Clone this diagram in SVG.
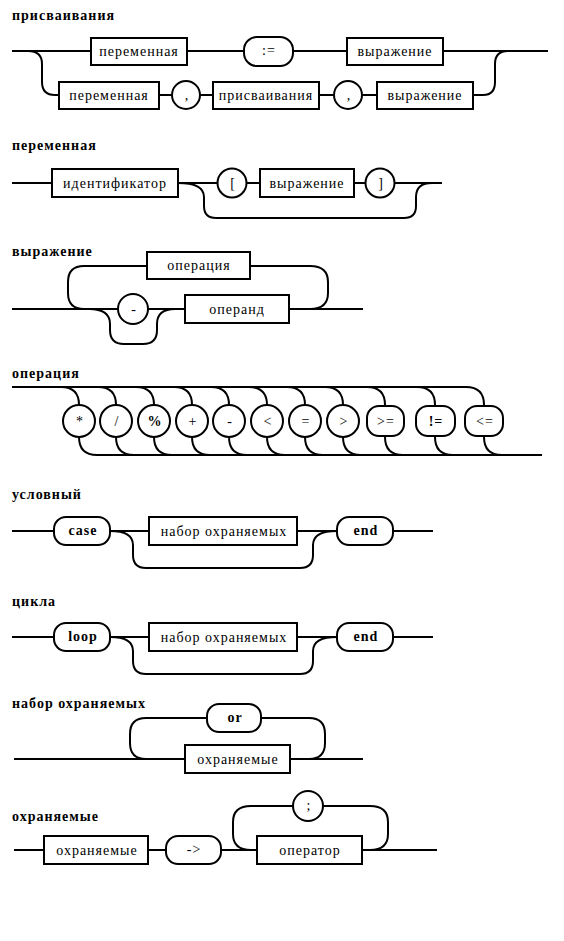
<svg xmlns="http://www.w3.org/2000/svg" width="564" height="941" viewBox="0 0 564 941">
<style>
.ln{fill:none;stroke:#000;stroke-width:2}
.bx{fill:#fff;stroke:#000;stroke-width:2}
.t{font-family:"Liberation Serif","DejaVu Serif",serif;font-size:14px;letter-spacing:1px;text-anchor:middle;fill:#000}
.b{font-weight:bold}
.h{font-family:"Liberation Serif","DejaVu Serif",serif;font-size:14px;font-weight:bold;letter-spacing:1px;fill:#000}
</style>
<rect width="564" height="941" fill="#fff"/>
<g id="titles">
<text class="h" x="12" y="20">присваивания</text>
<text class="h" x="12" y="150">переменная</text>
<text class="h" x="12" y="256">выражение</text>
<text class="h" x="12" y="378">операция</text>
<text class="h" x="12" y="499">условный</text>
<text class="h" x="12" y="606">цикла</text>
<text class="h" x="12" y="708">набор охраняемых</text>
<text class="h" x="12" y="821">охраняемые</text>
</g>
<g id="connectors">
<path class="ln" d="M12,51 H548"/>
<path class="ln" d="M28,51 Q42,51 42,64 L42,82 Q42,95 55,95 H483 Q495,95 495,82 L495,64 Q495,51 508,51"/>
<path class="ln" d="M12,183 H442"/>
<path class="ln" d="M178,183 Q204,183 204,197 L204,206 Q204,218 216,218 H404 Q416,218 416,206 L416,197 Q416,183 432,183"/>
<path class="ln" d="M12,309 H363"/>
<path class="ln" d="M84,309 Q68,309 68,293 L68,282 Q68,266 84,266 H310 Q328,266 328,282 L328,293 Q328,309 310,309"/>
<path class="ln" d="M89,309 Q110,309 110,324 L110,330 Q110,344 124,344 H143 Q157,344 157,330 L157,324 Q157,309 175,309"/>
<path class="ln" d="M12,387 H466"/>
<path class="ln" d="M97,455 H542"/>
<path class="ln" d="M61,387 Q79,387 79,405 M79,437 Q79,455 97,455"/>
<path class="ln" d="M98,387 Q116,387 116,405 M116,437 Q116,455 134,455"/>
<path class="ln" d="M136,387 Q154,387 154,405 M154,437 Q154,455 172,455"/>
<path class="ln" d="M174,387 Q192,387 192,405 M192,437 Q192,455 210,455"/>
<path class="ln" d="M211,387 Q229,387 229,405 M229,437 Q229,455 247,455"/>
<path class="ln" d="M249,387 Q267,387 267,405 M267,437 Q267,455 285,455"/>
<path class="ln" d="M287,387 Q305,387 305,405 M305,437 Q305,455 323,455"/>
<path class="ln" d="M325,387 Q343,387 343,405 M343,437 Q343,455 361,455"/>
<path class="ln" d="M367,387 Q385,387 385,405 M385,437 Q385,455 403,455"/>
<path class="ln" d="M417,387 Q435,387 435,405 M435,437 Q435,455 453,455"/>
<path class="ln" d="M466,387 Q484,387 484,405 M484,437 Q484,455 502,455"/>
<path class="ln" d="M12,531 H433"/>
<path class="ln" d="M110,531 Q133,531 133,545 L133,555 Q133,568 146,568 H300 Q313,568 313,555 L313,545 Q313,531 337,531"/>
<path class="ln" d="M12,637 H433"/>
<path class="ln" d="M110,637 Q133,637 133,651 L133,661 Q133,674 146,674 H300 Q313,674 313,661 L313,651 Q313,637 337,637"/>
<path class="ln" d="M14,759 H363"/>
<path class="ln" d="M146,759 Q130,759 130,743 L130,734 Q130,718 146,718 H309 Q325,718 325,734 L325,743 Q325,759 309,759"/>
<path class="ln" d="M14,850 H437"/>
<path class="ln" d="M251,850 Q233,850 233,834 L233,822 Q233,806 251,806 H370 Q388,806 388,822 L388,834 Q388,850 370,850"/>
</g>
<g id="n1a"><rect class="bx" x="91" y="38" width="96" height="27"/><text class="t" x="139" y="56">переменная</text></g>
<g id="n1b"><rect class="bx" x="244" y="37" width="49" height="29" rx="13"/><text class="t" x="269" y="55">:=</text></g>
<g id="n1c"><rect class="bx" x="347" y="38" width="96" height="27"/><text class="t" x="395" y="56">выражение</text></g>
<g id="n1d"><rect class="bx" x="59" y="82" width="100" height="27"/><text class="t" x="109" y="100">переменная</text></g>
<g id="n1e"><circle class="bx" cx="186" cy="95" r="14"/><text class="t" x="187" y="100">,</text></g>
<g id="n1f"><rect class="bx" x="213" y="82" width="106" height="27"/><text class="t" x="266" y="100">присваивания</text></g>
<g id="n1g"><circle class="bx" cx="348" cy="95" r="14"/><text class="t" x="349" y="100">,</text></g>
<g id="n1h"><rect class="bx" x="377" y="82" width="96" height="27"/><text class="t" x="425" y="100">выражение</text></g>
<g id="n2a"><rect class="bx" x="52" y="169" width="126" height="28"/><text class="t" x="115" y="188">идентификатор</text></g>
<g id="n2b"><circle class="bx" cx="232" cy="183" r="14.5"/><text class="t" x="233" y="188">[</text></g>
<g id="n2c"><rect class="bx" x="260" y="169" width="94" height="28"/><text class="t" x="307" y="188">выражение</text></g>
<g id="n2d"><circle class="bx" cx="380" cy="183" r="14.5"/><text class="t" x="381" y="188">]</text></g>
<g id="n3a"><rect class="bx" x="147" y="252" width="103" height="27"/><text class="t" x="199" y="270">операция</text></g>
<g id="n3b"><circle class="bx" cx="133" cy="309" r="15"/><text class="t" x="134" y="314">-</text></g>
<g id="n3c"><rect class="bx" x="185" y="295" width="104" height="28"/><text class="t" x="237" y="314">операнд</text></g>
<g id="n4a"><circle class="bx" cx="79" cy="421" r="16"/><text class="t" x="80" y="426">*</text></g>
<g id="n4b"><circle class="bx" cx="116" cy="421" r="16"/><text class="t" x="117" y="426">/</text></g>
<g id="n4c"><circle class="bx" cx="154" cy="421" r="16"/><text class="t b" x="155" y="426">%</text></g>
<g id="n4d"><circle class="bx" cx="192" cy="421" r="16"/><text class="t" x="193" y="426">+</text></g>
<g id="n4e"><circle class="bx" cx="229" cy="421" r="16"/><text class="t" x="230" y="426">-</text></g>
<g id="n4f"><circle class="bx" cx="267" cy="421" r="16"/><text class="t" x="268" y="426">&lt;</text></g>
<g id="n4g"><circle class="bx" cx="305" cy="421" r="16"/><text class="t" x="306" y="426">=</text></g>
<g id="n4h"><circle class="bx" cx="343" cy="421" r="16"/><text class="t" x="344" y="426">&gt;</text></g>
<g id="n4i"><rect class="bx" x="367" y="406" width="37" height="30" rx="12"/><text class="t" x="386" y="426">&gt;=</text></g>
<g id="n4j"><rect class="bx" x="416" y="406" width="39" height="30" rx="12"/><text class="t b" x="436" y="426">!=</text></g>
<g id="n4k"><rect class="bx" x="465" y="406" width="38" height="30" rx="12"/><text class="t" x="485" y="426">&lt;=</text></g>
<g id="n5a"><rect class="bx" x="54" y="517" width="56" height="28" rx="12"/><text class="t b" x="83" y="535">case</text></g>
<g id="n5b"><rect class="bx" x="149" y="517" width="148" height="28"/><text class="t" x="224" y="536">набор охраняемых</text></g>
<g id="n5c"><rect class="bx" x="337" y="517" width="56" height="28" rx="12"/><text class="t b" x="366" y="535">end</text></g>
<g id="n6a"><rect class="bx" x="54" y="623" width="56" height="28" rx="12"/><text class="t b" x="83" y="641">loop</text></g>
<g id="n6b"><rect class="bx" x="149" y="623" width="148" height="28"/><text class="t" x="224" y="642">набор охраняемых</text></g>
<g id="n6c"><rect class="bx" x="337" y="623" width="56" height="28" rx="12"/><text class="t b" x="366" y="641">end</text></g>
<g id="n7a"><rect class="bx" x="207" y="704" width="54" height="28" rx="12"/><text class="t b" x="235" y="722">or</text></g>
<g id="n7b"><rect class="bx" x="185" y="745" width="105" height="28"/><text class="t" x="238" y="764">охраняемые</text></g>
<g id="n8a"><rect class="bx" x="44" y="836" width="104" height="28"/><text class="t" x="97" y="855">охраняемые</text></g>
<g id="n8b"><rect class="bx" x="166" y="836" width="55" height="28" rx="12"/><text class="t" x="194" y="854">-&gt;</text></g>
<g id="n8c"><rect class="bx" x="257" y="836" width="105" height="28"/><text class="t" x="310" y="855">оператор</text></g>
<g id="n8d"><circle class="bx" cx="308" cy="806" r="15"/><text class="t" x="309" y="810">;</text></g>
</svg>
